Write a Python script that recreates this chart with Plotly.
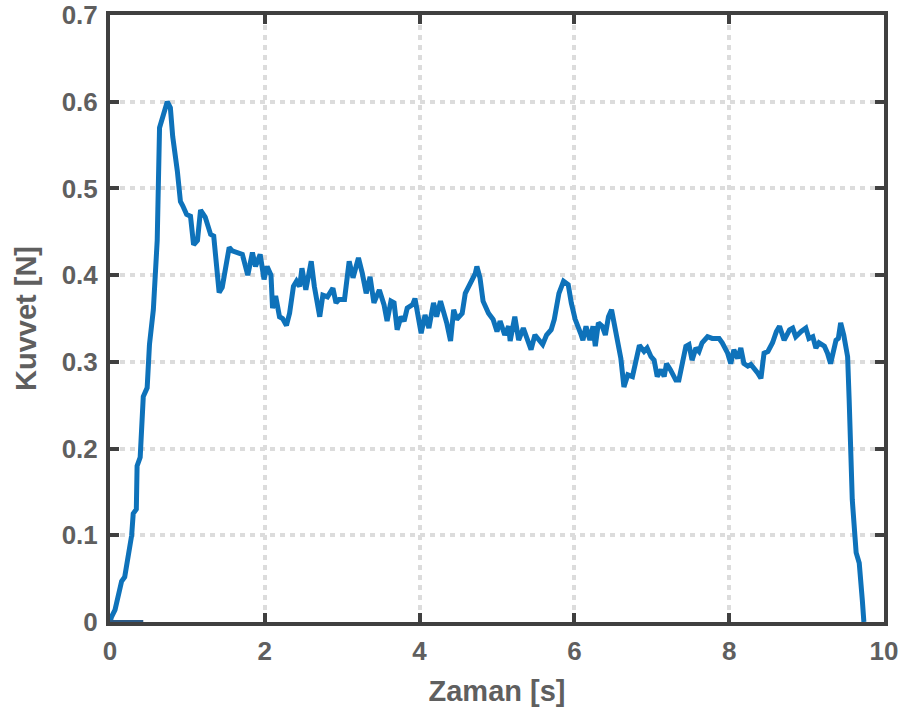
import plotly.graph_objects as go

time_s = [0.0, 0.02, 0.065, 0.11, 0.15, 0.19, 0.23, 0.28, 0.30, 0.34, 0.35, 0.39, 0.43, 0.48, 0.51, 0.56, 0.61, 0.63, 0.64,
          0.69, 0.74, 0.78, 0.81, 0.87, 0.91, 0.94, 0.99, 1.04, 1.08, 1.13, 1.17, 1.23, 1.30, 1.34, 1.41, 1.45, 1.49,
          1.54, 1.58, 1.65, 1.71, 1.78, 1.82, 1.84, 1.88, 1.94, 1.99, 2.03, 2.08, 2.10, 2.14, 2.19, 2.23, 2.28, 2.32,
          2.37, 2.41, 2.45, 2.48, 2.53, 2.60, 2.64, 2.71, 2.75, 2.81, 2.88, 2.92, 2.96, 3.03, 3.09, 3.14, 3.21, 3.26,
          3.31, 3.36, 3.41, 3.48, 3.54, 3.58, 3.63, 3.67, 3.71, 3.76, 3.80, 3.84, 3.91, 3.94, 3.99, 4.02, 4.07, 4.12,
          4.18, 4.22, 4.27, 4.31, 4.35, 4.40, 4.44, 4.48, 4.55, 4.59, 4.66, 4.72, 4.74, 4.78, 4.82, 4.89, 4.95, 5.00,
          5.04, 5.10, 5.15, 5.17, 5.23, 5.28, 5.34, 5.38, 5.44, 5.49, 5.53, 5.59, 5.64, 5.70, 5.74, 5.80, 5.86, 5.92,
          5.96, 6.01, 6.08, 6.11, 6.15, 6.20, 6.24, 6.27, 6.31, 6.36, 6.40, 6.44, 6.48, 6.52, 6.55, 6.60, 6.64, 6.69,
          6.75, 6.80, 6.84, 6.90, 6.94, 6.99, 7.03, 7.07, 7.12, 7.16, 7.19, 7.24, 7.31, 7.35, 7.39, 7.44, 7.48, 7.52,
          7.57, 7.61, 7.65, 7.72, 7.78, 7.87, 7.91, 7.98, 8.02, 8.06, 8.11, 8.15, 8.19, 8.24, 8.28, 8.32, 8.37, 8.41,
          8.45, 8.50, 8.56, 8.61, 8.65, 8.71, 8.78, 8.82, 8.86, 8.93, 8.99, 9.03, 9.08, 9.12, 9.16, 9.23, 9.27, 9.31,
          9.38, 9.41, 9.44, 9.48, 9.51, 9.53, 9.55, 9.57, 9.59, 9.64, 9.68, 9.72, 9.74]
force_n = [0.0, 0.006, 0.014, 0.035, 0.047, 0.052, 0.076, 0.100, 0.125, 0.130, 0.180, 0.190, 0.260, 0.270, 0.320, 0.360,
           0.440, 0.500, 0.570, 0.585, 0.600, 0.593, 0.560, 0.520, 0.485, 0.480, 0.470, 0.468, 0.435, 0.440, 0.475,
           0.467, 0.447, 0.445, 0.380, 0.386, 0.407, 0.432, 0.428, 0.426, 0.424, 0.400, 0.418, 0.426, 0.410, 0.424,
           0.395, 0.410, 0.400, 0.362, 0.376, 0.352, 0.350, 0.342, 0.356, 0.387, 0.393, 0.387, 0.408, 0.383, 0.416,
           0.387, 0.352, 0.377, 0.375, 0.385, 0.368, 0.372, 0.372, 0.416, 0.397, 0.420, 0.402, 0.379, 0.398, 0.368,
           0.383, 0.366, 0.347, 0.370, 0.368, 0.337, 0.352, 0.347, 0.362, 0.366, 0.373, 0.352, 0.333, 0.354, 0.339,
           0.368, 0.352, 0.370, 0.358, 0.345, 0.324, 0.360, 0.349, 0.356, 0.379, 0.391, 0.402, 0.410, 0.397, 0.370,
           0.356, 0.349, 0.335, 0.347, 0.331, 0.341, 0.324, 0.352, 0.325, 0.339, 0.327, 0.314, 0.331, 0.327, 0.320,
           0.331, 0.337, 0.349, 0.379, 0.393, 0.389, 0.368, 0.349, 0.333, 0.325, 0.341, 0.325, 0.341, 0.318, 0.345,
           0.341, 0.331, 0.352, 0.360, 0.341, 0.322, 0.304, 0.271, 0.285, 0.283, 0.306, 0.319, 0.312, 0.316, 0.306,
           0.302, 0.283, 0.291, 0.283, 0.298, 0.291, 0.279, 0.279, 0.298, 0.318, 0.320, 0.302, 0.316, 0.312, 0.322,
           0.329, 0.327, 0.327, 0.322, 0.310, 0.298, 0.314, 0.304, 0.316, 0.298, 0.295, 0.297, 0.293, 0.287, 0.281,
           0.310, 0.312, 0.322, 0.335, 0.341, 0.325, 0.337, 0.339, 0.329, 0.335, 0.339, 0.327, 0.329, 0.316, 0.322,
           0.318, 0.310, 0.298, 0.325, 0.327, 0.345, 0.331, 0.318, 0.306, 0.256, 0.198, 0.141, 0.080, 0.068, 0.025,
           0.0]

baseline_x = [0.0, 0.43]
baseline_y = [0.0, 0.0]

x_ticks = [0, 2, 4, 6, 8, 10]
y_ticks = [0, 0.1, 0.2, 0.3, 0.4, 0.5, 0.6, 0.7]
y_tick_labels = ["0", "0.1", "0.2", "0.3", "0.4", "0.5", "0.6", "0.7"]

LINE = "#0E72BA"
AXIS = "#404040"
TXT = "#5f5f5f"
FONT = "Liberation Sans, Arial, sans-serif"

fig = go.Figure()
fig.add_trace(go.Scatter(x=time_s, y=force_n, mode="lines",
                         line=dict(color=LINE, width=5), showlegend=False))
fig.add_trace(go.Scatter(x=baseline_x, y=baseline_y, mode="lines",
                         line=dict(color="#2d5a86", width=4), showlegend=False, cliponaxis=False))

axis_common = dict(
    showline=True, linecolor=AXIS, linewidth=4, mirror="ticks",
    ticks="inside", ticklen=9, tickwidth=4, tickcolor=AXIS,
    showgrid=True, gridcolor="#dcdcdc", gridwidth=3.5, griddash="5px,5px",
    zeroline=False, automargin=False, ticklabeloverflow="allow",
    tickfont=dict(family=FONT, size=26, color=TXT, weight="bold"),
)

fig.update_xaxes(range=[0, 10], tickvals=x_ticks, ticklabelstandoff=3,
                 title=dict(text="Zaman [s]", font=dict(family=FONT, size=29, color=TXT, weight="bold"), standoff=16),
                 **axis_common)
fig.update_yaxes(range=[0, 0.7], tickvals=y_ticks, ticktext=y_tick_labels, ticklabelstandoff=3,
                 title=dict(text="Kuvvet [N]", font=dict(family=FONT, size=29, color=TXT, weight="bold"), standoff=17),
                 **axis_common)

fig.update_layout(
    width=902, height=711,
    margin=dict(l=110, r=18, t=15, b=89),
    plot_bgcolor="white", paper_bgcolor="white",
)

# remove the default 8px page margin so the figure fills the window exactly
fig.write_html("out.html", config={"displayModeBar": False},
               post_script="document.body.style.margin='0';document.body.style.overflow='hidden';")
